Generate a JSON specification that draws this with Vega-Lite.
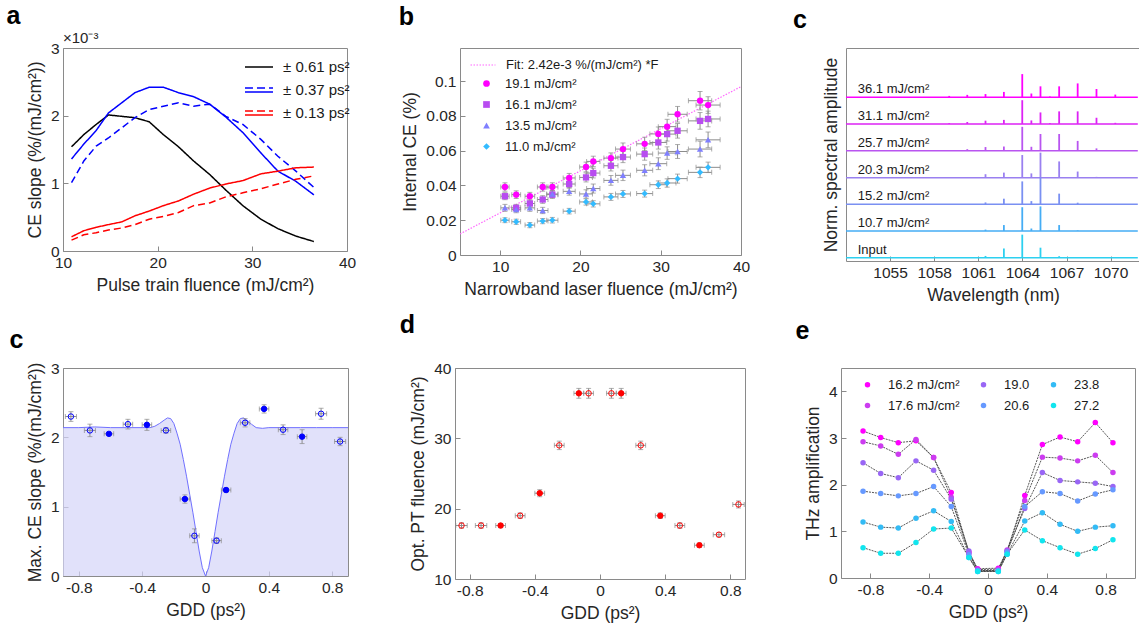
{
  "$schema": "https://vega.github.io/schema/vega-lite/v6.json",
  "background": "white",
  "padding": {"left": 5, "top": 3, "right": 0, "bottom": 0},
  "config": {
    "font": "Liberation Sans",
    "view": {"stroke": "#8a8a8a", "strokeWidth": 1},
    "axis": {"grid": false, "domain": false, "labelFlush": false, "labelFontSize": 15.5, "labelColor": "#262626", "titleFontSize": 17.5, "titleFontWeight": "normal", "titleColor": "#262626", "tickColor": "#8a8a8a", "tickSize": -5, "labelPadding": 9, "titlePadding": 6},
    "legend": {"labelFontSize": 13, "labelColor": "#1a1a1a", "labelFont": "Liberation Sans"},
    "title": {"fontSize": 25, "fontWeight": "bold", "color": "#000000", "anchor": "start", "font": "Liberation Sans"}
  },
  "resolve": {
    "scale": {"color": "independent", "fill": "independent", "shape": "independent", "stroke": "independent", "strokeDash": "independent"},
    "legend": {"color": "independent", "fill": "independent", "shape": "independent", "stroke": "independent", "strokeDash": "independent"}
  },
  "datasets": {
    "A": [
      {"x":10.9,"y":1.54,"g":"0.61","d":"s"},{"x":12.2,"y":1.72,"g":"0.61","d":"s"},{"x":13.5,"y":1.87,"g":"0.61","d":"s"},{"x":14.8,"y":2.01,"g":"0.61","d":"s"},{"x":16.2,"y":1.99,"g":"0.61","d":"s"},{"x":17.6,"y":1.97,"g":"0.61","d":"s"},{"x":19.1,"y":1.91,"g":"0.61","d":"s"},{"x":20.6,"y":1.72,"g":"0.61","d":"s"},{"x":22.2,"y":1.54,"g":"0.61","d":"s"},{"x":23.8,"y":1.33,"g":"0.61","d":"s"},{"x":25.5,"y":1.13,"g":"0.61","d":"s"},{"x":27.2,"y":0.90,"g":"0.61","d":"s"},{"x":29.0,"y":0.67,"g":"0.61","d":"s"},{"x":30.9,"y":0.47,"g":"0.61","d":"s"},{"x":32.7,"y":0.33,"g":"0.61","d":"s"},{"x":34.6,"y":0.22,"g":"0.61","d":"s"},{"x":36.5,"y":0.14,"g":"0.61","d":"s"},
      {"x":10.9,"y":1.36,"g":"0.37","d":"s"},{"x":12.2,"y":1.58,"g":"0.37","d":"s"},{"x":13.5,"y":1.78,"g":"0.37","d":"s"},{"x":14.8,"y":2.04,"g":"0.37","d":"s"},{"x":16.2,"y":2.19,"g":"0.37","d":"s"},{"x":17.6,"y":2.34,"g":"0.37","d":"s"},{"x":19.1,"y":2.42,"g":"0.37","d":"s"},{"x":20.6,"y":2.42,"g":"0.37","d":"s"},{"x":22.2,"y":2.34,"g":"0.37","d":"s"},{"x":23.8,"y":2.28,"g":"0.37","d":"s"},{"x":25.5,"y":2.17,"g":"0.37","d":"s"},{"x":27.2,"y":1.98,"g":"0.37","d":"s"},{"x":29.0,"y":1.75,"g":"0.37","d":"s"},{"x":30.9,"y":1.45,"g":"0.37","d":"s"},{"x":32.7,"y":1.18,"g":"0.37","d":"s"},{"x":34.6,"y":1.03,"g":"0.37","d":"s"},{"x":36.5,"y":0.83,"g":"0.37","d":"s"},
      {"x":10.9,"y":1.01,"g":"0.37","d":"d"},{"x":12.2,"y":1.33,"g":"0.37","d":"d"},{"x":13.5,"y":1.55,"g":"0.37","d":"d"},{"x":14.8,"y":1.67,"g":"0.37","d":"d"},{"x":16.2,"y":1.82,"g":"0.37","d":"d"},{"x":17.6,"y":1.97,"g":"0.37","d":"d"},{"x":19.1,"y":2.09,"g":"0.37","d":"d"},{"x":20.6,"y":2.14,"g":"0.37","d":"d"},{"x":22.2,"y":2.19,"g":"0.37","d":"d"},{"x":23.8,"y":2.14,"g":"0.37","d":"d"},{"x":25.5,"y":2.17,"g":"0.37","d":"d"},{"x":27.2,"y":1.99,"g":"0.37","d":"d"},{"x":29.0,"y":1.87,"g":"0.37","d":"d"},{"x":30.9,"y":1.65,"g":"0.37","d":"d"},{"x":32.7,"y":1.40,"g":"0.37","d":"d"},{"x":34.6,"y":1.18,"g":"0.37","d":"d"},{"x":36.5,"y":0.94,"g":"0.37","d":"d"},
      {"x":10.9,"y":0.21,"g":"0.13","d":"s"},{"x":12.2,"y":0.30,"g":"0.13","d":"s"},{"x":13.5,"y":0.35,"g":"0.13","d":"s"},{"x":14.8,"y":0.39,"g":"0.13","d":"s"},{"x":16.2,"y":0.43,"g":"0.13","d":"s"},{"x":17.6,"y":0.52,"g":"0.13","d":"s"},{"x":19.1,"y":0.59,"g":"0.13","d":"s"},{"x":20.6,"y":0.67,"g":"0.13","d":"s"},{"x":22.2,"y":0.74,"g":"0.13","d":"s"},{"x":23.8,"y":0.84,"g":"0.13","d":"s"},{"x":25.5,"y":0.93,"g":"0.13","d":"s"},{"x":27.2,"y":0.99,"g":"0.13","d":"s"},{"x":29.0,"y":1.04,"g":"0.13","d":"s"},{"x":30.9,"y":1.14,"g":"0.13","d":"s"},{"x":32.7,"y":1.18,"g":"0.13","d":"s"},{"x":34.6,"y":1.23,"g":"0.13","d":"s"},{"x":36.5,"y":1.24,"g":"0.13","d":"s"},
      {"x":10.9,"y":0.16,"g":"0.13","d":"d"},{"x":12.2,"y":0.24,"g":"0.13","d":"d"},{"x":13.5,"y":0.27,"g":"0.13","d":"d"},{"x":14.8,"y":0.31,"g":"0.13","d":"d"},{"x":16.2,"y":0.34,"g":"0.13","d":"d"},{"x":17.6,"y":0.39,"g":"0.13","d":"d"},{"x":19.1,"y":0.47,"g":"0.13","d":"d"},{"x":20.6,"y":0.51,"g":"0.13","d":"d"},{"x":22.2,"y":0.57,"g":"0.13","d":"d"},{"x":23.8,"y":0.67,"g":"0.13","d":"d"},{"x":25.5,"y":0.71,"g":"0.13","d":"d"},{"x":27.2,"y":0.80,"g":"0.13","d":"d"},{"x":29.0,"y":0.86,"g":"0.13","d":"d"},{"x":30.9,"y":0.92,"g":"0.13","d":"d"},{"x":32.7,"y":0.99,"g":"0.13","d":"d"},{"x":34.6,"y":1.06,"g":"0.13","d":"d"},{"x":36.5,"y":1.11,"g":"0.13","d":"d"}
    ],
    "B": [
      {"x":10.6,"xe":0.52,"s":"19.1","y":0.0391,"ye":0.0024},{"x":12.0,"xe":0.55,"s":"19.1","y":0.0347,"ye":0.0022},{"x":13.7,"xe":0.6,"s":"19.1","y":0.0338,"ye":0.0022},{"x":15.3,"xe":0.66,"s":"19.1","y":0.0391,"ye":0.0024},{"x":16.5,"xe":0.7,"s":"19.1","y":0.0391,"ye":0.0024},{"x":18.6,"xe":0.75,"s":"19.1","y":0.0443,"ye":0.0026},{"x":20.7,"xe":0.8,"s":"19.1","y":0.0506,"ye":0.0028},{"x":21.6,"xe":0.83,"s":"19.1","y":0.0538,"ye":0.003},{"x":23.8,"xe":0.88,"s":"19.1","y":0.0557,"ye":0.003},{"x":25.3,"xe":0.93,"s":"19.1","y":0.0609,"ye":0.0035},{"x":28.0,"xe":1.0,"s":"19.1","y":0.0639,"ye":0.0038},{"x":29.7,"xe":1.05,"s":"19.1","y":0.0696,"ye":0.004},{"x":30.8,"xe":1.1,"s":"19.1","y":0.0738,"ye":0.0042},{"x":32.1,"xe":1.2,"s":"19.1","y":0.0809,"ye":0.0045},{"x":34.9,"xe":1.45,"s":"19.1","y":0.0887,"ye":0.0053},{"x":35.9,"xe":1.5,"s":"19.1","y":0.0862,"ye":0.0048},
      {"x":10.6,"xe":0.52,"s":"16.1","y":0.0338,"ye":0.002},{"x":12.0,"xe":0.55,"s":"16.1","y":0.0271,"ye":0.002},{"x":13.7,"xe":0.6,"s":"16.1","y":0.0296,"ye":0.002},{"x":15.3,"xe":0.66,"s":"16.1","y":0.0319,"ye":0.0022},{"x":16.5,"xe":0.7,"s":"16.1","y":0.0347,"ye":0.0022},{"x":18.6,"xe":0.75,"s":"16.1","y":0.0408,"ye":0.0024},{"x":20.7,"xe":0.8,"s":"16.1","y":0.0446,"ye":0.0026},{"x":21.6,"xe":0.83,"s":"16.1","y":0.0471,"ye":0.0028},{"x":23.8,"xe":0.88,"s":"16.1","y":0.0513,"ye":0.003},{"x":25.3,"xe":0.93,"s":"16.1","y":0.0563,"ye":0.0032},{"x":28.0,"xe":1.0,"s":"16.1","y":0.0580,"ye":0.0035},{"x":29.7,"xe":1.05,"s":"16.1","y":0.0647,"ye":0.0038},{"x":30.8,"xe":1.1,"s":"16.1","y":0.0695,"ye":0.004},{"x":32.1,"xe":1.2,"s":"16.1","y":0.0714,"ye":0.0042},{"x":34.9,"xe":1.45,"s":"16.1","y":0.0771,"ye":0.0048},{"x":35.9,"xe":1.5,"s":"16.1","y":0.0782,"ye":0.0045},
      {"x":10.6,"xe":0.52,"s":"13.5","y":0.0271,"ye":0.002},{"x":12.0,"xe":0.55,"s":"13.5","y":0.0261,"ye":0.0018},{"x":13.7,"xe":0.6,"s":"13.5","y":0.0271,"ye":0.002},{"x":15.3,"xe":0.66,"s":"13.5","y":0.0256,"ye":0.0018},{"x":16.5,"xe":0.7,"s":"13.5","y":0.0351,"ye":0.002},{"x":18.6,"xe":0.75,"s":"13.5","y":0.0366,"ye":0.0022},{"x":20.7,"xe":0.8,"s":"13.5","y":0.0351,"ye":0.0024},{"x":21.6,"xe":0.83,"s":"13.5","y":0.0382,"ye":0.0026},{"x":23.8,"xe":0.88,"s":"13.5","y":0.0429,"ye":0.0028},{"x":25.3,"xe":0.93,"s":"13.5","y":0.0458,"ye":0.003},{"x":28.0,"xe":1.0,"s":"13.5","y":0.0487,"ye":0.0032},{"x":29.7,"xe":1.05,"s":"13.5","y":0.0525,"ye":0.0034},{"x":30.8,"xe":1.1,"s":"13.5","y":0.0586,"ye":0.0036},{"x":32.1,"xe":1.2,"s":"13.5","y":0.0595,"ye":0.004},{"x":34.9,"xe":1.45,"s":"13.5","y":0.0609,"ye":0.0045},{"x":35.9,"xe":1.5,"s":"13.5","y":0.0662,"ye":0.0045},
      {"x":10.6,"xe":0.52,"s":"11.0","y":0.0200,"ye":0.0014},{"x":12.0,"xe":0.55,"s":"11.0","y":0.0191,"ye":0.0015},{"x":13.7,"xe":0.6,"s":"11.0","y":0.0172,"ye":0.0015},{"x":15.3,"xe":0.66,"s":"11.0","y":0.0195,"ye":0.0015},{"x":16.5,"xe":0.7,"s":"11.0","y":0.0200,"ye":0.0016},{"x":18.6,"xe":0.75,"s":"11.0","y":0.0252,"ye":0.0016},{"x":20.7,"xe":0.8,"s":"11.0","y":0.0305,"ye":0.0018},{"x":21.6,"xe":0.83,"s":"11.0","y":0.0294,"ye":0.0018},{"x":23.8,"xe":0.88,"s":"11.0","y":0.0334,"ye":0.002},{"x":25.3,"xe":0.93,"s":"11.0","y":0.0351,"ye":0.002},{"x":28.0,"xe":1.0,"s":"11.0","y":0.0353,"ye":0.002},{"x":29.7,"xe":1.05,"s":"11.0","y":0.0404,"ye":0.0022},{"x":30.8,"xe":1.1,"s":"11.0","y":0.0414,"ye":0.0024},{"x":32.1,"xe":1.2,"s":"11.0","y":0.0439,"ye":0.0026},{"x":34.9,"xe":1.45,"s":"11.0","y":0.0475,"ye":0.003},{"x":35.9,"xe":1.5,"s":"11.0","y":0.0504,"ye":0.003}
    ],
    "SB": [
      {"t":"36.1","base":6.15,"lab":"36.1 mJ/cm²"},{"t":"31.1","base":5.15,"lab":"31.1 mJ/cm²"},{"t":"25.7","base":4.14,"lab":"25.7 mJ/cm²"},{"t":"20.3","base":3.13,"lab":"20.3 mJ/cm²"},{"t":"15.2","base":2.13,"lab":"15.2 mJ/cm²"},{"t":"10.7","base":1.13,"lab":"10.7 mJ/cm²"},{"t":"Input","base":0.12,"lab":"Input"}
    ],
    "SP": [
      {"t":"36.1","wl":1059.02,"y0":6.15,"y1":6.20},{"t":"36.1","wl":1060.25,"y0":6.15,"y1":6.24},{"t":"36.1","wl":1061.49,"y0":6.15,"y1":6.27},{"t":"36.1","wl":1062.74,"y0":6.15,"y1":6.35},{"t":"36.1","wl":1063.99,"y0":6.15,"y1":7.02},{"t":"36.1","wl":1064.61,"y0":6.15,"y1":6.29},{"t":"36.1","wl":1065.23,"y0":6.15,"y1":6.56},{"t":"36.1","wl":1065.87,"y0":6.15,"y1":6.18},{"t":"36.1","wl":1066.5,"y0":6.15,"y1":6.56},{"t":"36.1","wl":1067.76,"y0":6.15,"y1":6.67},{"t":"36.1","wl":1069.04,"y0":6.15,"y1":6.46},{"t":"36.1","wl":1070.32,"y0":6.15,"y1":6.25},
      {"t":"31.1","wl":1059.02,"y0":5.15,"y1":5.18},{"t":"31.1","wl":1060.25,"y0":5.15,"y1":5.22},{"t":"31.1","wl":1061.49,"y0":5.15,"y1":5.27},{"t":"31.1","wl":1062.74,"y0":5.15,"y1":5.30},{"t":"31.1","wl":1063.99,"y0":5.15,"y1":6.04},{"t":"31.1","wl":1064.61,"y0":5.15,"y1":5.28},{"t":"31.1","wl":1065.23,"y0":5.15,"y1":5.58},{"t":"31.1","wl":1065.87,"y0":5.15,"y1":5.18},{"t":"31.1","wl":1066.5,"y0":5.15,"y1":5.62},{"t":"31.1","wl":1067.76,"y0":5.15,"y1":5.62},{"t":"31.1","wl":1069.04,"y0":5.15,"y1":5.38},{"t":"31.1","wl":1070.32,"y0":5.15,"y1":5.19},
      {"t":"25.7","wl":1060.25,"y0":4.14,"y1":4.20},{"t":"25.7","wl":1061.49,"y0":4.14,"y1":4.28},{"t":"25.7","wl":1062.74,"y0":4.14,"y1":4.30},{"t":"25.7","wl":1063.99,"y0":4.14,"y1":5.04},{"t":"25.7","wl":1064.61,"y0":4.14,"y1":4.29},{"t":"25.7","wl":1065.23,"y0":4.14,"y1":4.77},{"t":"25.7","wl":1066.5,"y0":4.14,"y1":4.77},{"t":"25.7","wl":1067.76,"y0":4.14,"y1":4.51},{"t":"25.7","wl":1069.04,"y0":4.14,"y1":4.23},
      {"t":"20.3","wl":1060.25,"y0":3.13,"y1":3.15},{"t":"20.3","wl":1061.49,"y0":3.13,"y1":3.26},{"t":"20.3","wl":1062.74,"y0":3.13,"y1":3.32},{"t":"20.3","wl":1063.99,"y0":3.13,"y1":3.98},{"t":"20.3","wl":1064.61,"y0":3.13,"y1":3.29},{"t":"20.3","wl":1065.23,"y0":3.13,"y1":4.07},{"t":"20.3","wl":1066.5,"y0":3.13,"y1":3.74},{"t":"20.3","wl":1067.76,"y0":3.13,"y1":3.36},{"t":"20.3","wl":1069.04,"y0":3.13,"y1":3.16},
      {"t":"15.2","wl":1061.49,"y0":2.13,"y1":2.20},{"t":"15.2","wl":1062.74,"y0":2.13,"y1":2.34},{"t":"15.2","wl":1063.99,"y0":2.13,"y1":2.99},{"t":"15.2","wl":1064.61,"y0":2.13,"y1":2.25},{"t":"15.2","wl":1065.23,"y0":2.13,"y1":3.14},{"t":"15.2","wl":1066.5,"y0":2.13,"y1":2.53},{"t":"15.2","wl":1067.76,"y0":2.13,"y1":2.19},
      {"t":"10.7","wl":1061.49,"y0":1.13,"y1":1.18},{"t":"10.7","wl":1062.74,"y0":1.13,"y1":1.35},{"t":"10.7","wl":1063.99,"y0":1.13,"y1":2.02},{"t":"10.7","wl":1064.61,"y0":1.13,"y1":1.22},{"t":"10.7","wl":1065.23,"y0":1.13,"y1":2.05},{"t":"10.7","wl":1066.5,"y0":1.13,"y1":1.35},{"t":"10.7","wl":1067.76,"y0":1.13,"y1":1.15},
      {"t":"Input","wl":1061.49,"y0":0.12,"y1":0.19},{"t":"Input","wl":1062.74,"y0":0.12,"y1":0.47},{"t":"Input","wl":1063.99,"y0":0.12,"y1":0.99},{"t":"Input","wl":1065.23,"y0":0.12,"y1":0.50},{"t":"Input","wl":1066.5,"y0":0.12,"y1":0.18}
    ],
    "CF": [
      {"x":-0.9,"y":2.14},{"x":-0.8,"y":2.14},{"x":-0.7,"y":2.15},{"x":-0.6,"y":2.14},{"x":-0.5,"y":2.14},{"x":-0.4,"y":2.14},{"x":-0.35,"y":2.14},{"x":-0.32,"y":2.16},{"x":-0.29,"y":2.2},{"x":-0.26,"y":2.25},{"x":-0.24,"y":2.28},{"x":-0.22,"y":2.27},{"x":-0.2,"y":2.2},{"x":-0.18,"y":2.06},{"x":-0.16,"y":1.9},{"x":-0.14,"y":1.68},{"x":-0.12,"y":1.44},{"x":-0.1,"y":1.18},{"x":-0.08,"y":0.92},{"x":-0.06,"y":0.64},{"x":-0.04,"y":0.36},{"x":-0.02,"y":0.12},{"x":0,"y":0},
      {"x":0.02,"y":0.12},{"x":0.04,"y":0.36},{"x":0.06,"y":0.64},{"x":0.08,"y":0.92},{"x":0.1,"y":1.18},{"x":0.12,"y":1.44},{"x":0.14,"y":1.68},{"x":0.16,"y":1.9},{"x":0.18,"y":2.06},{"x":0.2,"y":2.2},{"x":0.22,"y":2.27},{"x":0.24,"y":2.28},{"x":0.26,"y":2.25},{"x":0.29,"y":2.19},{"x":0.32,"y":2.14},{"x":0.36,"y":2.13},{"x":0.4,"y":2.14},{"x":0.5,"y":2.14},{"x":0.6,"y":2.14},{"x":0.7,"y":2.14},{"x":0.8,"y":2.14},{"x":0.9,"y":2.14}
    ],
    "G": [
      {"g":-0.85,"f":"n","c":2.30,"ce":0.07,"d":17.6,"de":0.4,"xe":0.035},
      {"g":-0.73,"f":"n","c":2.10,"ce":0.09,"d":17.6,"de":0.4,"xe":0.035},
      {"g":-0.61,"f":"y","c":2.05,"ce":0.02,"d":17.6,"de":0.3,"xe":0.03},
      {"g":-0.49,"f":"n","c":2.19,"ce":0.07,"d":19.0,"de":0.4,"xe":0.03},
      {"g":-0.37,"f":"y","c":2.18,"ce":0.08,"d":22.2,"de":0.5,"xe":0.03},
      {"g":-0.25,"f":"n","c":2.10,"ce":0.04,"d":29.0,"de":0.6,"xe":0.03},
      {"g":-0.13,"f":"y","c":1.11,"ce":0.06,"d":36.4,"de":0.7,"xe":0.03},
      {"g":-0.07,"f":"n","c":0.58,"ce":0.10,"d":36.4,"de":0.7,"xe":0.03},
      {"g":0.07,"f":"n","c":0.51,"ce":0.04,"d":36.4,"de":0.7,"xe":0.03},
      {"g":0.13,"f":"y","c":1.24,"ce":0.03,"d":36.4,"de":0.7,"xe":0.03},
      {"g":0.25,"f":"n","c":2.21,"ce":0.06,"d":29.0,"de":0.6,"xe":0.03},
      {"g":0.37,"f":"y","c":2.41,"ce":0.06,"d":19.0,"de":0.4,"xe":0.03},
      {"g":0.49,"f":"n","c":2.11,"ce":0.07,"d":17.6,"de":0.4,"xe":0.03},
      {"g":0.61,"f":"y","c":2.01,"ce":0.10,"d":14.8,"de":0.3,"xe":0.03},
      {"g":0.73,"f":"n","c":2.34,"ce":0.08,"d":16.3,"de":0.3,"xe":0.035},
      {"g":0.85,"f":"n","c":1.94,"ce":0.06,"d":20.6,"de":0.5,"xe":0.035}
    ],
    "E": [
      {"g":-0.85,"s":"16.2 mJ/cm²","y":3.15},{"g":-0.73,"s":"16.2 mJ/cm²","y":3.01},{"g":-0.61,"s":"16.2 mJ/cm²","y":2.90},{"g":-0.49,"s":"16.2 mJ/cm²","y":2.94},{"g":-0.37,"s":"16.2 mJ/cm²","y":2.58},{"g":-0.25,"s":"16.2 mJ/cm²","y":1.83},{"g":-0.13,"s":"16.2 mJ/cm²","y":0.55},{"g":-0.07,"s":"16.2 mJ/cm²","y":0.20},{"g":0.07,"s":"16.2 mJ/cm²","y":0.21},{"g":0.13,"s":"16.2 mJ/cm²","y":0.57},{"g":0.25,"s":"16.2 mJ/cm²","y":1.77},{"g":0.37,"s":"16.2 mJ/cm²","y":2.86},{"g":0.49,"s":"16.2 mJ/cm²","y":3.02},{"g":0.61,"s":"16.2 mJ/cm²","y":2.92},{"g":0.73,"s":"16.2 mJ/cm²","y":3.33},{"g":0.85,"s":"16.2 mJ/cm²","y":2.90},
      {"g":-0.85,"s":"17.6 mJ/cm²","y":2.92},{"g":-0.73,"s":"17.6 mJ/cm²","y":2.83},{"g":-0.61,"s":"17.6 mJ/cm²","y":2.65},{"g":-0.49,"s":"17.6 mJ/cm²","y":2.97},{"g":-0.37,"s":"17.6 mJ/cm²","y":2.58},{"g":-0.25,"s":"17.6 mJ/cm²","y":1.73},{"g":-0.13,"s":"17.6 mJ/cm²","y":0.53},{"g":-0.07,"s":"17.6 mJ/cm²","y":0.18},{"g":0.07,"s":"17.6 mJ/cm²","y":0.19},{"g":0.13,"s":"17.6 mJ/cm²","y":0.60},{"g":0.25,"s":"17.6 mJ/cm²","y":1.66},{"g":0.37,"s":"17.6 mJ/cm²","y":2.59},{"g":0.49,"s":"17.6 mJ/cm²","y":2.57},{"g":0.61,"s":"17.6 mJ/cm²","y":2.51},{"g":0.73,"s":"17.6 mJ/cm²","y":2.63},{"g":0.85,"s":"17.6 mJ/cm²","y":2.26},
      {"g":-0.85,"s":"19.0","y":2.47},{"g":-0.73,"s":"19.0","y":2.24},{"g":-0.61,"s":"19.0","y":2.15},{"g":-0.49,"s":"19.0","y":2.51},{"g":-0.37,"s":"19.0","y":2.31},{"g":-0.25,"s":"19.0","y":1.69},{"g":-0.13,"s":"19.0","y":0.58},{"g":-0.07,"s":"19.0","y":0.16},{"g":0.07,"s":"19.0","y":0.16},{"g":0.13,"s":"19.0","y":0.58},{"g":0.25,"s":"19.0","y":1.49},{"g":0.37,"s":"19.0","y":2.26},{"g":0.49,"s":"19.0","y":2.09},{"g":0.61,"s":"19.0","y":2.06},{"g":0.73,"s":"19.0","y":2.03},{"g":0.85,"s":"19.0","y":1.96},
      {"g":-0.85,"s":"20.6","y":1.86},{"g":-0.73,"s":"20.6","y":1.81},{"g":-0.61,"s":"20.6","y":1.76},{"g":-0.49,"s":"20.6","y":1.81},{"g":-0.37,"s":"20.6","y":1.96},{"g":-0.25,"s":"20.6","y":1.53},{"g":-0.13,"s":"20.6","y":0.50},{"g":-0.07,"s":"20.6","y":0.16},{"g":0.07,"s":"20.6","y":0.16},{"g":0.13,"s":"20.6","y":0.56},{"g":0.25,"s":"20.6","y":1.53},{"g":0.37,"s":"20.6","y":1.85},{"g":0.49,"s":"20.6","y":1.81},{"g":0.61,"s":"20.6","y":1.65},{"g":0.73,"s":"20.6","y":1.80},{"g":0.85,"s":"20.6","y":1.89},
      {"g":-0.85,"s":"23.8","y":1.20},{"g":-0.73,"s":"23.8","y":1.09},{"g":-0.61,"s":"23.8","y":1.07},{"g":-0.49,"s":"23.8","y":1.28},{"g":-0.37,"s":"23.8","y":1.44},{"g":-0.25,"s":"23.8","y":1.21},{"g":-0.13,"s":"23.8","y":0.44},{"g":-0.07,"s":"23.8","y":0.14},{"g":0.07,"s":"23.8","y":0.14},{"g":0.13,"s":"23.8","y":0.51},{"g":0.25,"s":"23.8","y":1.22},{"g":0.37,"s":"23.8","y":1.40},{"g":0.49,"s":"23.8","y":1.15},{"g":0.61,"s":"23.8","y":1.00},{"g":0.73,"s":"23.8","y":1.09},{"g":0.85,"s":"23.8","y":1.12},
      {"g":-0.85,"s":"27.2","y":0.65},{"g":-0.73,"s":"27.2","y":0.53},{"g":-0.61,"s":"27.2","y":0.53},{"g":-0.49,"s":"27.2","y":0.76},{"g":-0.37,"s":"27.2","y":1.05},{"g":-0.25,"s":"27.2","y":1.07},{"g":-0.13,"s":"27.2","y":0.44},{"g":-0.07,"s":"27.2","y":0.14},{"g":0.07,"s":"27.2","y":0.14},{"g":0.13,"s":"27.2","y":0.51},{"g":0.25,"s":"27.2","y":1.03},{"g":0.37,"s":"27.2","y":0.80},{"g":0.49,"s":"27.2","y":0.65},{"g":0.61,"s":"27.2","y":0.51},{"g":0.73,"s":"27.2","y":0.63},{"g":0.85,"s":"27.2","y":0.82}
    ]
  },
  "vconcat": [
    {
      "spacing": 41,
      "resolve": {
        "scale": {"color": "independent", "fill": "independent", "shape": "independent", "stroke": "independent", "strokeDash": "independent"},
        "legend": {"color": "independent", "fill": "independent", "shape": "independent", "stroke": "independent", "strokeDash": "independent"}
      },
      "hconcat": [
        {
          "width": 284, "height": 203,
          "title": {"text": "a", "dx": -20, "offset": 2},
          "layer": [
            {
              "data": {"name": "A"},
              "mark": {"type": "line", "strokeWidth": 1.5},
              "encoding": {
                "x": {"field": "x", "type": "quantitative", "scale": {"domain": [10, 40]}, "axis": {"values": [10, 20, 30, 40], "title": "Pulse train fluence (mJ/cm²)"}},
                "y": {"field": "y", "type": "quantitative", "scale": {"domain": [0, 3]}, "axis": {"values": [0, 1, 2, 3], "format": "~g", "title": "CE slope (%/(mJ/cm²))"}},
                "color": {"field": "g", "type": "nominal", "scale": {"domain": ["0.61", "0.37", "0.13"], "range": ["#000000", "#0000ff", "#ff0000"]},
                  "legend": {"orient": "none", "legendX": 188, "legendY": 11, "title": null, "labelExpr": "'± ' + datum.label + ' ps²'", "labelFontSize": 15, "symbolSize": 196, "symbolStrokeWidth": 1.5, "labelOffset": 16, "rowPadding": 7,
                    "encode": {"symbols": {"update": {"shape": {"signal": "datum.value == '0.61' ? 'M-2,0H2' : 'M-2,-0.3H-0.86M-0.29,-0.3H0.86M1.43,-0.3H2M-2,0.3H2'"}}}}}},
                "strokeDash": {"field": "d", "type": "nominal", "scale": {"domain": ["s", "d"], "range": [[1, 0], [7, 4]]}, "legend": null}
              }
            },
            {
              "data": {"values": [{}]},
              "mark": {"type": "text", "align": "left", "baseline": "bottom", "dy": -2, "fontSize": 15, "color": "#262626"},
              "encoding": {"x": {"datum": 10}, "y": {"datum": 3}, "text": {"value": "×10⁻³"}}
            }
          ]
        },
        {
          "width": 281, "height": 207,
          "title": {"text": "b", "dx": -3, "offset": 18},
          "encoding": {
            "x": {"field": "x", "type": "quantitative", "scale": {"domain": [5, 40]}, "axis": {"values": [10, 20, 30, 40], "title": "Narrowband laser fluence (mJ/cm²)"}},
            "y": {"field": "y", "type": "quantitative", "scale": {"domain": [0, 0.119]}, "axis": {"values": [0, 0.02, 0.04, 0.06, 0.08, 0.1], "format": "~g", "title": "Internal CE (%)"}}
          },
          "layer": [
            {
              "data": {"values": [{"x": 5, "y": 0.0121}, {"x": 40, "y": 0.0968}]},
              "mark": {"type": "line", "strokeDash": [1.5, 1.5], "strokeWidth": 1.2},
              "encoding": {
                "stroke": {"datum": "Fit: 2.42e-3 %/(mJ/cm²) *F", "type": "nominal", "scale": {"range": ["#ff66ff"]},
                  "legend": {"orient": "none", "legendX": 16, "legendY": 10, "title": null, "symbolType": "M-2,0H2", "symbolSize": 156, "symbolDash": [1.5, 1.5], "symbolStrokeWidth": 1.2, "labelOffset": 16, "labelFontSize": 13}}
              }
            },
            {
              "data": {"name": "B"},
              "mark": {"type": "errorbar", "ticks": {"size": 5}, "color": "#8c8c8c"},
              "encoding": {"xError": {"field": "xe"}}
            },
            {
              "data": {"name": "B"},
              "mark": {"type": "errorbar", "ticks": {"size": 5}, "color": "#8c8c8c"},
              "encoding": {"yError": {"field": "ye"}}
            },
            {
              "data": {"name": "B"},
              "mark": {"type": "point", "filled": true, "size": 40, "opacity": 1},
              "encoding": {
                "color": {"field": "s", "type": "nominal", "scale": {"domain": ["19.1", "16.1", "13.5", "11.0"], "range": ["#ff00ff", "#b84cf0", "#7f7fff", "#33bbff"]},
                  "legend": {"orient": "none", "legendX": 20, "legendY": 29, "title": null, "labelExpr": "datum.label + ' mJ/cm²'", "symbolSize": 45, "labelOffset": 12, "rowPadding": 7, "labelFontSize": 13}},
                "shape": {"field": "s", "type": "nominal", "scale": {"domain": ["19.1", "16.1", "13.5", "11.0"], "range": ["circle", "square", "triangle-up", "diamond"]},
                  "legend": {"orient": "none", "legendX": 20, "legendY": 29, "title": null, "labelExpr": "datum.label + ' mJ/cm²'", "symbolSize": 45, "labelOffset": 12, "rowPadding": 7, "labelFontSize": 13}}
              }
            }
          ]
        },
        {
          "width": 294, "height": 213,
          "title": {"text": "c", "dx": -29, "offset": 15},
          "layer": [
            {
              "data": {"name": "SB"},
              "mark": {"type": "rule", "strokeWidth": 1.5},
              "encoding": {
                "x": {"datum": 1052, "type": "quantitative", "scale": {"domain": [1052, 1071.85]}, "axis": {"values": [1055, 1058, 1061, 1064, 1067, 1070], "format": "d", "title": "Wavelength (nm)"}},
                "x2": {"datum": 1071.85},
                "y": {"field": "base", "type": "quantitative", "scale": {"domain": [0, 7.45]}, "axis": {"title": "Norm. spectral amplitude", "labels": false, "ticks": false}},
                "color": {"field": "t", "type": "nominal", "scale": {"domain": ["36.1", "31.1", "25.7", "20.3", "15.2", "10.7", "Input"], "range": ["#ff00ff", "#dd22f5", "#b955f0", "#9a80f0", "#7a90f2", "#45adf5", "#2dd0f0"]}, "legend": null}
              }
            },
            {
              "data": {"name": "SP"},
              "mark": {"type": "rule", "strokeWidth": 1.8},
              "encoding": {
                "x": {"field": "wl", "type": "quantitative", "axis": {"values": [1055, 1058, 1061, 1064, 1067, 1070], "format": "d", "title": "Wavelength (nm)"}},
                "y": {"field": "y0", "type": "quantitative", "axis": {"title": "Norm. spectral amplitude", "labels": false, "ticks": false}},
                "y2": {"field": "y1"},
                "color": {"field": "t", "type": "nominal", "legend": null}
              }
            },
            {
              "data": {"name": "SB"},
              "mark": {"type": "text", "align": "left", "baseline": "alphabetic", "dy": -4, "fontSize": 13, "color": "#1a1a1a"},
              "encoding": {
                "x": {"datum": 1052.8, "type": "quantitative"},
                "y": {"field": "base", "type": "quantitative"},
                "text": {"field": "lab"}
              }
            }
          ]
        }
      ]
    },
    {
      "spacing": 48,
      "resolve": {
        "scale": {"color": "independent", "fill": "independent", "shape": "independent", "stroke": "independent", "strokeDash": "independent"},
        "legend": {"color": "independent", "fill": "independent", "shape": "independent", "stroke": "independent", "strokeDash": "independent"}
      },
      "hconcat": [
        {
          "width": 285, "height": 208,
          "title": {"text": "c", "dx": -17, "offset": 8},
          "encoding": {
            "x": {"field": "g", "type": "quantitative", "scale": {"domain": [-0.9, 0.9]}, "axis": {"values": [-0.8, -0.4, 0, 0.4, 0.8], "format": "~g", "labelExpr": "replace(datum.label, '−', '-')", "title": "GDD (ps²)"}},
            "y": {"field": "c", "type": "quantitative", "scale": {"domain": [0, 3]}, "axis": {"values": [0, 1, 2, 3], "title": "Max. CE slope (%/(mJ/cm²))"}}
          },
          "layer": [
            {
              "data": {"name": "CF"},
              "mark": {"type": "area", "fill": "#d4d4f8", "line": {"color": "#7070ff", "strokeWidth": 1}},
              "encoding": {"x": {"field": "x", "type": "quantitative"}, "y": {"field": "y", "type": "quantitative"}}
            },
            {
              "data": {"name": "G"},
              "mark": {"type": "errorbar", "ticks": {"size": 5}, "color": "#8c8c8c"},
              "encoding": {"yError": {"field": "ce"}}
            },
            {
              "data": {"name": "G"},
              "mark": {"type": "errorbar", "ticks": {"size": 5}, "color": "#8c8c8c"},
              "encoding": {"xError": {"field": "xe"}}
            },
            {
              "data": {"name": "G"},
              "mark": {"type": "point", "size": 30, "strokeWidth": 1, "stroke": "#0000ff", "opacity": 1},
              "encoding": {"fill": {"field": "f", "type": "nominal", "scale": {"domain": ["y", "n"], "range": ["#0000ff", "transparent"]}, "legend": null}}
            },
            {
              "data": {"values": [{}]},
              "mark": {"type": "text", "align": "left", "baseline": "bottom", "dy": -2, "fontSize": 15, "color": "#262626"},
              "encoding": {"x": {"datum": -0.9}, "y": {"datum": 3}, "text": {"value": "×10⁻³"}}
            }
          ]
        },
        {
          "width": 290, "height": 211,
          "title": {"text": "d", "dx": -10, "offset": 23},
          "data": {"name": "G"},
          "encoding": {
            "x": {"field": "g", "type": "quantitative", "scale": {"domain": [-0.89, 0.89]}, "axis": {"values": [-0.8, -0.4, 0, 0.4, 0.8], "format": "~g", "labelExpr": "replace(datum.label, '−', '-')", "title": "GDD (ps²)"}},
            "y": {"field": "d", "type": "quantitative", "scale": {"domain": [10, 40]}, "axis": {"values": [10, 20, 30, 40], "title": "Opt. PT fluence (mJ/cm²)"}}
          },
          "layer": [
            {"mark": {"type": "errorbar", "ticks": {"size": 5}, "color": "#8c8c8c"}, "encoding": {"yError": {"field": "de"}}},
            {"mark": {"type": "errorbar", "ticks": {"size": 5}, "color": "#8c8c8c"}, "encoding": {"xError": {"field": "xe"}}},
            {
              "mark": {"type": "point", "size": 30, "strokeWidth": 1, "stroke": "#ff0000", "opacity": 1},
              "encoding": {"fill": {"field": "f", "type": "nominal", "scale": {"domain": ["y", "n"], "range": ["#ff0000", "transparent"]}, "legend": null}}
            }
          ]
        },
        {
          "width": 294, "height": 210,
          "title": {"text": "e", "dx": -9, "offset": 24},
          "data": {"name": "E"},
          "encoding": {
            "x": {"field": "g", "type": "quantitative", "scale": {"domain": [-1, 1]}, "axis": {"values": [-0.8, -0.4, 0, 0.4, 0.8], "format": "~g", "labelExpr": "replace(datum.label, '−', '-')", "title": "GDD (ps²)"}},
            "y": {"field": "y", "type": "quantitative", "scale": {"domain": [0, 4.5]}, "axis": {"values": [0, 1, 2, 3, 4], "title": "THz amplification"}}
          },
          "layer": [
            {"mark": {"type": "line", "color": "#444444", "strokeWidth": 0.9, "strokeDash": [2, 1]}, "encoding": {"detail": {"field": "s"}}},
            {
              "mark": {"type": "point", "filled": true, "size": 30, "opacity": 1},
              "encoding": {"color": {"field": "s", "type": "nominal",
                "scale": {"domain": ["16.2 mJ/cm²", "17.6 mJ/cm²", "19.0", "20.6", "23.8", "27.2"], "range": ["#ff00ff", "#cc3cf0", "#9966f5", "#6699ff", "#33bbf5", "#11e5ee"]},
                "legend": {"orient": "none", "legendX": 20, "legendY": 10, "columns": 3, "title": null, "symbolType": "circle", "symbolSize": 30, "labelOffset": 14, "rowPadding": 7, "columnPadding": 17, "labelFontSize": 13}}}
            }
          ]
        }
      ]
    }
  ],
  "spacing": 7
}
